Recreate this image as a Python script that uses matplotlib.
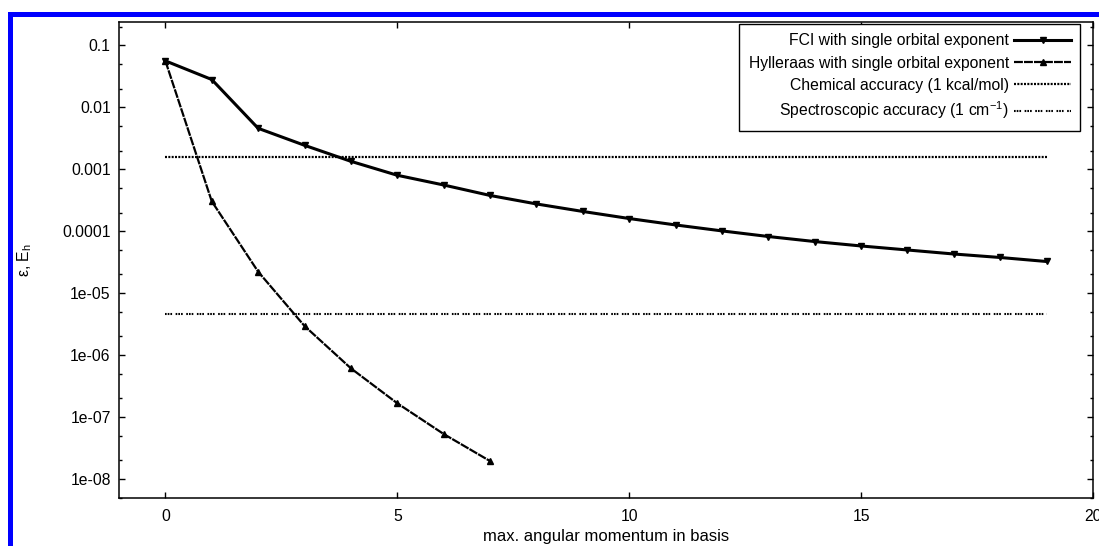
import numpy as np
import matplotlib
matplotlib.use("Agg")
import matplotlib.pyplot as plt
from matplotlib.patches import Rectangle
from matplotlib.ticker import FixedLocator, FixedFormatter, LogLocator, NullFormatter

plt.rcParams['font.family'] = ['Liberation Sans', 'DejaVu Sans']
plt.rcParams['mathtext.fontset'] = 'custom'
plt.rcParams['mathtext.rm'] = 'Liberation Sans'

# data
l_max = list(range(20))
fci_err = [0.056, 0.028, 0.00457, 0.00243, 0.00134, 0.000798, 0.000556, 0.000377,
           0.000275, 0.000208, 0.000160, 0.000126, 0.000101, 8.2e-5, 6.8e-5,
           5.77e-5, 4.97e-5, 4.28e-5, 3.76e-5, 3.24e-5]
hyl_lmax = list(range(8))
hyl_err = [0.056, 3.03e-4, 2.22e-5, 2.95e-6, 6.12e-7, 1.67e-7, 5.33e-8, 1.95e-8]
chem_acc = 1.594e-3   # 1 kcal/mol in Eh
spec_acc = 4.556e-6   # 1 cm^-1 in Eh

series_labels = ["FCI with single orbital exponent",
                 "Hylleraas with single orbital exponent",
                 "Chemical accuracy (1 kcal/mol)",
                 "Spectroscopic accuracy (1 cm$^{-1}$)"]
ytick_vals = [1e-1, 1e-2, 1e-3, 1e-4, 1e-5, 1e-6, 1e-7, 1e-8]
ytick_labels = ["0.1", "0.01", "0.001", "0.0001", "1e-05", "1e-06", "1e-07", "1e-08"]
xtick_vals = [0, 5, 10, 15, 20]

FS = 11.3
W, H = 1099, 546
fig = plt.figure(figsize=(W / 100, H / 100), dpi=100)
ax = fig.add_axes([119 / W, 1 - 497.7 / H, (1093 - 119) / W, (497.7 - 21.7) / H])

ax.plot(l_max, fci_err, color='black', lw=2.2, marker='v', ms=5, label=series_labels[0])
ax.plot(hyl_lmax, hyl_err, color='black', lw=1.6, ls=(0, (4, 0.5)), marker='^', ms=5,
        label=series_labels[1])
ax.plot(l_max, [chem_acc] * len(l_max), color='black', lw=1.6, ls=(0, (0.9, 0.6)),
        label=series_labels[2])
ax.plot(l_max, [spec_acc] * len(l_max), color='black', lw=1.5,
        ls=(0, (0.8, 0.5, 0.8, 0.5, 0.8, 1.7)), label=series_labels[3])

ax.set_yscale('log')
ax.set_xlim(-1, 20)
ax.set_ylim(5e-9, 0.24)

ax.yaxis.set_major_locator(FixedLocator(ytick_vals))
ax.yaxis.set_major_formatter(FixedFormatter(ytick_labels))
ax.yaxis.set_minor_locator(LogLocator(base=10, subs=(2, 5), numticks=20))
ax.yaxis.set_minor_formatter(NullFormatter())
ax.set_xticks(xtick_vals)

ax.tick_params(which='both', direction='in', top=True, right=True, labelsize=FS,
               width=1.0, color='black')
ax.tick_params(which='major', length=4)
ax.tick_params(which='minor', length=2.5)
ax.tick_params(axis='y', pad=6)
ax.tick_params(axis='x', pad=8)
for sp in ax.spines.values():
    sp.set_linewidth(1.1)

ax.set_xlabel("max. angular momentum in basis", fontsize=12, labelpad=4)
ax.set_ylabel(r"ε, E$_\mathregular{h}$", fontsize=FS, labelpad=20)

leg = ax.legend(loc='upper right', bbox_to_anchor=(0.987, 0.995), borderaxespad=0,
                markerfirst=False, fontsize=FS, handlelength=3.6, numpoints=1,
                fancybox=False, framealpha=1, edgecolor='black', labelspacing=0.45,
                borderpad=0.6, handletextpad=0.35)
leg.get_frame().set_linewidth(1.0)

# blue frame along the top and left edge
fig.add_artist(Rectangle((8 / W, 0), 5 / W, 1 - 12 / H, transform=fig.transFigure,
                         color='#0000ff', lw=0))
fig.add_artist(Rectangle((8 / W, 1 - 17 / H), 1 - 8 / W, 5 / H, transform=fig.transFigure,
                         color='#0000ff', lw=0))

fig.savefig("out.png", dpi=100)
